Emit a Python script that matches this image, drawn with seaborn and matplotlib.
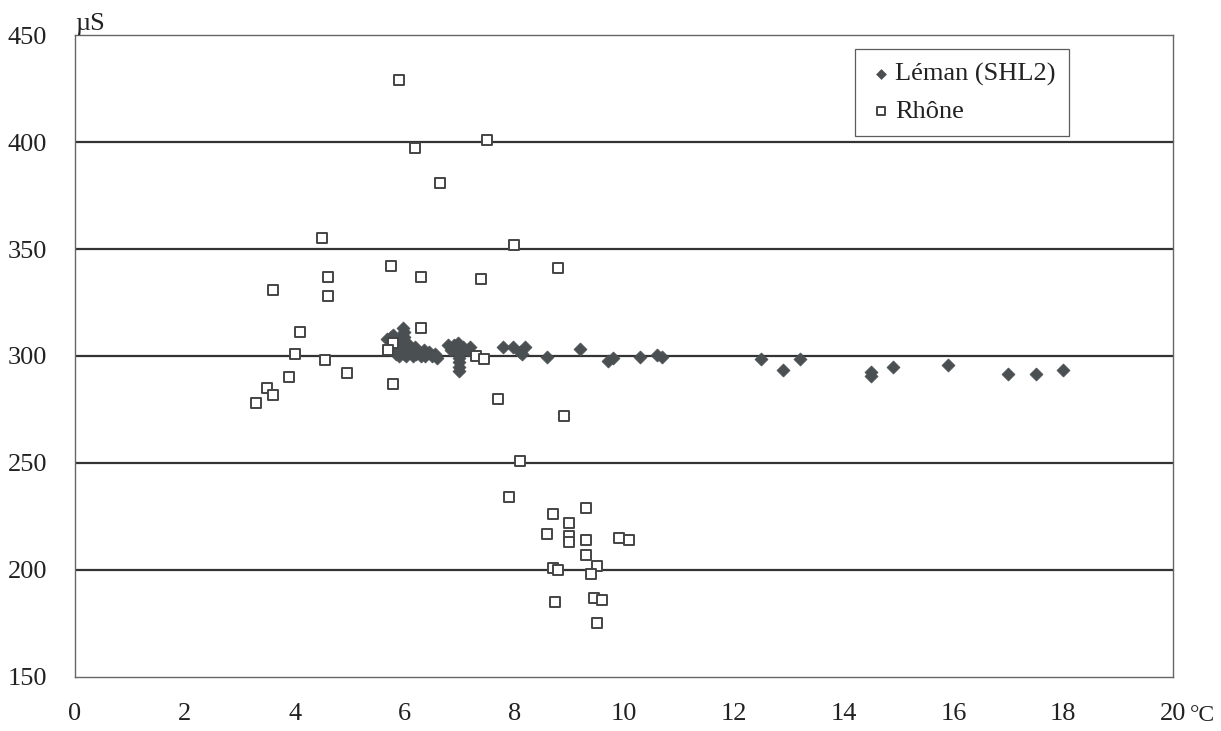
import matplotlib
matplotlib.use("Agg")
import matplotlib.pyplot as plt
import seaborn as sns
import pandas as pd

# Léman (SHL2) - temperature (°C) and conductivity (µS)
leman_temp = [5.68, 5.75, 5.8, 5.85, 5.9, 5.95, 5.97, 6.0, 6.0, 6.02, 6.0, 6.0, 6.03,
              5.85, 5.9, 6.1, 6.15, 6.2, 6.25, 6.3, 6.35, 6.4, 6.45, 6.5, 6.6,
              5.78, 6.08, 6.12, 6.22, 6.38, 6.55,
              6.8, 6.85, 6.9, 6.98, 7.0, 7.0, 7.0, 7.0, 7.0, 7.0, 7.07, 7.15, 7.2,
              7.8, 7.98, 8.1, 8.2, 8.15, 8.6, 9.2, 9.7, 9.8, 10.3, 10.6, 10.7,
              12.5, 12.9, 13.2, 14.5, 14.5, 14.9, 15.9, 17.0, 17.5, 18.0]
leman_cond = [308, 309, 310, 306, 308, 304, 313, 311, 309, 306, 303, 301, 300,
              301, 300, 302, 300, 304, 302, 300, 303, 301, 302, 300, 299,
              304, 305, 303, 301, 300, 301,
              305, 303, 305, 306, 304, 301, 299, 297, 295, 293, 304, 303, 304,
              304, 304, 302, 304, 301, 299.5, 303.5, 297.5, 299, 299.5, 300.5, 299.5,
              298.5, 293.5, 298.5, 292.5, 290.5, 295, 296, 291.5, 291.5, 293.5]

# Rhône
rhone_temp = [5.9, 7.5, 6.2, 6.65, 4.5, 8.0, 5.75, 8.8, 4.6, 6.3, 7.4, 3.6, 4.6,
              6.3, 4.1, 5.8, 5.7, 4.0, 7.3, 4.55, 7.45, 4.95, 3.9, 5.8, 3.5, 3.6,
              3.3, 7.7, 8.9, 8.1, 7.9, 8.7, 9.3, 9.0, 8.6, 9.0, 9.0, 9.3, 9.9,
              10.1, 9.3, 9.5, 8.7, 8.8, 9.4, 8.75, 9.45, 9.6, 9.5]
rhone_cond = [429, 401, 397, 381, 355, 352, 342, 341, 337, 337, 336, 331, 328,
              313, 311, 306, 303, 301, 300, 298, 298.5, 292, 290, 287, 285, 282,
              278, 280, 272, 251, 234, 226, 229, 222, 217, 216, 213, 214, 215,
              214, 207, 202, 201, 200, 198, 185, 187, 186, 175]

x_ticks = [0, 2, 4, 6, 8, 10, 12, 14, 16, 18, 20]
y_ticks = [150, 200, 250, 300, 350, 400, 450]
grid_levels = [200, 250, 300, 350, 400]

sns.set_style("white")
plt.rcParams["font.family"] = ["Liberation Serif", "DejaVu Serif"]

leman_df = pd.DataFrame({"temp": leman_temp, "cond": leman_cond})
rhone_df = pd.DataFrame({"temp": rhone_temp, "cond": rhone_cond})

fig = plt.figure(figsize=(12.21, 7.31), dpi=100)
ax = fig.add_axes([0.0614, 0.0739, 0.8993, 0.8782])

for lvl in grid_levels:
    ax.axhline(lvl, color="#333333", linewidth=1.6, zorder=1)

sns.scatterplot(data=leman_df, x="temp", y="cond", marker="D", s=44,
                color="#4a4f52", edgecolor="#4a4f52", linewidth=0.5,
                label="Léman (SHL2)", ax=ax, zorder=3)
sns.scatterplot(data=rhone_df, x="temp", y="cond", marker="s", s=48,
                facecolor="white", edgecolor="#444444", linewidth=1.4,
                label="Rhône", ax=ax, zorder=4)

ax.set_xlim(0, 20)
ax.set_ylim(150, 450)
ax.set_xticks(x_ticks)
ax.set_yticks(y_ticks)
ax.set_xticklabels([str(t) for t in x_ticks])
ax.set_yticklabels([str(t) for t in y_ticks])
ax.set_xlabel("")
ax.set_ylabel("")

ax.tick_params(axis="x", direction="in", length=6, width=0.8, color="#555555",
               pad=19, labelsize=19, labelcolor="#222222")
ax.tick_params(axis="y", direction="in", length=0, pad=20, labelsize=19,
               labelcolor="#222222")

for side in ax.spines.values():
    side.set_color("#666666")
    side.set_linewidth(1.0)

ax.text(0.0, 1.0, "µS", transform=ax.transAxes, ha="left", va="bottom",
        fontsize=19, color="#222222")
ax.text(1.015, -0.043, "°C", transform=ax.transAxes, ha="left", va="top",
        fontsize=17, color="#222222")

leg = ax.legend(loc="upper left", bbox_to_anchor=(0.71, 0.978), fontsize=19,
                frameon=True, fancybox=False, edgecolor="#333333",
                borderaxespad=0, borderpad=0.5, handletextpad=0.05,
                labelspacing=0.5, handlelength=1.0, markerscale=0.75)
leg.get_frame().set_linewidth(0.9)
for t in leg.get_texts():
    t.set_color("#222222")

fig.savefig("out.png", dpi=100)
